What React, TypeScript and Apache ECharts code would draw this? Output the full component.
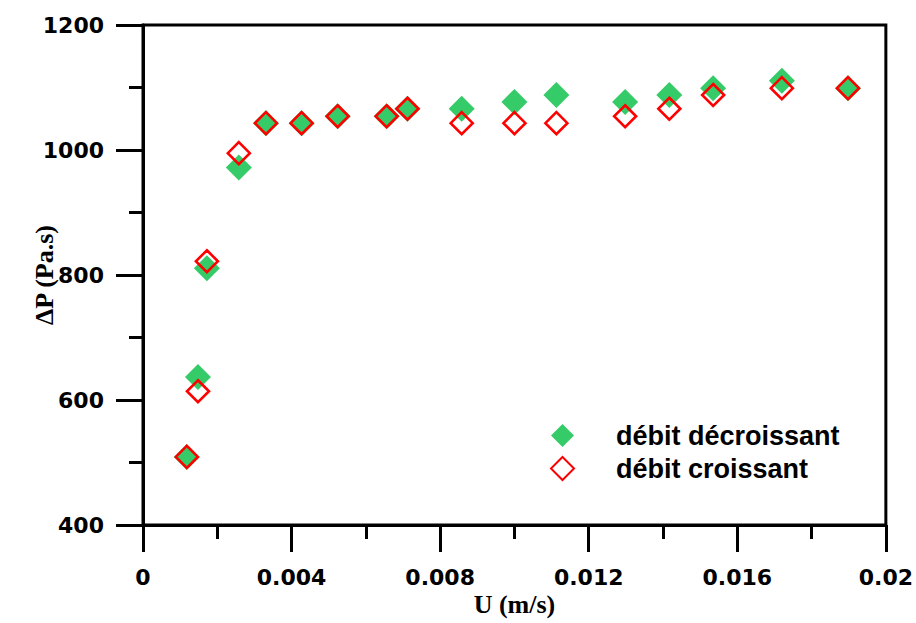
import React, { useEffect, useRef } from "react";
import * as echarts from "echarts";

const uValues = [0.00118, 0.00148, 0.00172, 0.00258, 0.00331, 0.00427, 0.00524, 0.00656, 0.00712, 0.00858, 0.0100, 0.01113, 0.01298, 0.01417, 0.01535, 0.0172, 0.01898];
const dpDecroissant = [509, 637, 811, 972, 1043, 1043, 1054, 1054, 1066, 1066, 1077, 1088, 1077, 1088, 1099, 1111, 1099];
const dpCroissant = [509, 614, 822, 995, 1043, 1043, 1054, 1054, 1066, 1043, 1043, 1043, 1054, 1066, 1088, 1099, 1099];
const seriesNames = ["débit décroissant", "débit croissant"];
const xTitle = "U (m/s)";
const yTitle = "ΔP (Pa.s)";

const GREEN = "#35CB68";
const RED = "#FF0000";

export default function App() {
  const ref = useRef<HTMLDivElement>(null);
  useEffect(() => {
    if (!ref.current) return;
    const chart = echarts.init(ref.current, null, { renderer: "svg" });
    const tickFont = { fontFamily: "DejaVu Sans", fontWeight: "bold" as const, fontSize: 22, color: "#000" };
    const titleFont = { fontFamily: "Liberation Serif", fontWeight: "bold" as const, fontSize: 26, color: "#000" };
    chart.setOption({
      animation: false,
      backgroundColor: "#fff",
      grid: { left: 143, right: 28, top: 25, bottom: 98, show: true, borderColor: "#000", borderWidth: 3, backgroundColor: "transparent" },
      legend: {
        left: 545,
        top: 417,
        orient: "vertical",
        itemWidth: 23,
        itemHeight: 23,
        itemGap: 6,
        textStyle: { fontFamily: "Liberation Sans", fontWeight: "bold", fontSize: 27, color: "#000", padding: [0, 0, 0, 37] },
        data: seriesNames,
      },
      xAxis: {
        type: "value",
        min: 0,
        max: 0.02,
        interval: 0.004,
        name: xTitle,
        nameLocation: "middle",
        nameGap: 66,
        nameMoveOverlap: false,
        nameTextStyle: titleFont,
        axisLine: { show: true, lineStyle: { color: "#000", width: 3 } },
        axisTick: { show: true, length: 27, lineStyle: { color: "#000", width: 3 } },
        minorTick: { show: true, splitNumber: 2, length: 14, lineStyle: { color: "#000", width: 3 } },
        splitLine: { show: false },
        axisLabel: { ...tickFont, margin: 41, formatter: (v: number) => String(+v.toFixed(3)) },
      },
      yAxis: {
        type: "value",
        min: 400,
        max: 1200,
        interval: 200,
        name: yTitle,
        nameLocation: "middle",
        nameGap: 86,
        nameMoveOverlap: false,
        nameTextStyle: titleFont,
        axisLine: { show: true, lineStyle: { color: "#000", width: 3 } },
        axisTick: { show: true, length: 27, lineStyle: { color: "#000", width: 3 } },
        minorTick: { show: true, splitNumber: 2, length: 14, lineStyle: { color: "#000", width: 3 } },
        splitLine: { show: false },
        axisLabel: { ...tickFont, margin: 39, formatter: (v: number) => String(v) },
      },
      series: [
        {
          name: seriesNames[0],
          type: "scatter",
          symbol: "diamond",
          symbolSize: 26,
          itemStyle: { color: GREEN, opacity: 1 },
          data: uValues.map((u, i) => [u, dpDecroissant[i]]),
        },
        {
          name: seriesNames[1],
          type: "scatter",
          symbol: "diamond",
          symbolSize: 22,
          itemStyle: { color: "rgba(255,255,255,0)", borderColor: RED, borderWidth: 2.6, opacity: 1 },
          data: uValues.map((u, i) => [u, dpCroissant[i]]),
        },
      ],
    });
    return () => chart.dispose();
  }, []);
  return <div ref={ref} style={{ position: "fixed", left: 0, top: 0, width: 916, height: 623 }} />;
}
